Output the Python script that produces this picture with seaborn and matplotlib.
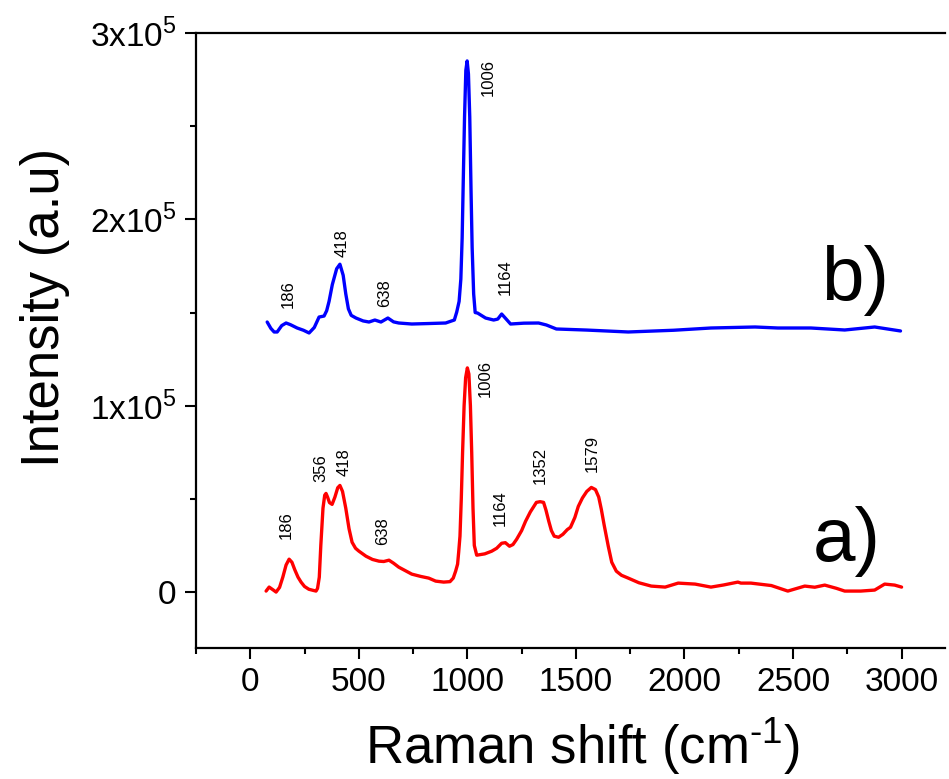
import matplotlib
matplotlib.use("Agg")
import matplotlib.pyplot as plt
from matplotlib.ticker import MultipleLocator, FixedLocator
import seaborn as sns
import pandas as pd

# Spectrum a) (red)
shift_a = [73, 87, 105, 119, 135, 150, 165, 179, 192, 205, 220, 234, 250, 270, 290, 303, 310,
           318, 325, 335, 343, 349, 356, 365, 377, 390, 403, 413, 425, 440, 455, 469, 485,
           500, 533, 563, 593, 615, 639, 660, 684, 714, 744, 785, 822, 854, 891, 920, 935,
           946, 955, 960, 966, 972, 978, 985, 992, 1000, 1007, 1014, 1020, 1026, 1032, 1043,
           1080, 1112, 1135, 1158, 1175, 1194, 1210, 1227, 1250, 1268, 1290, 1318, 1335,
           1351, 1362, 1375, 1387, 1400, 1420, 1440, 1460, 1475, 1495, 1511, 1530, 1550,
           1571, 1590, 1605, 1617, 1630, 1649, 1665, 1686, 1710, 1741, 1790, 1847, 1911,
           1971, 2049, 2122, 2180, 2246, 2260, 2306, 2400, 2476, 2554, 2600, 2646, 2700,
           2738, 2812, 2876, 2922, 2968, 3000]
int_a = [535, 2674, 1200, 0, 2500, 8000, 14500, 17650, 16000, 12000, 8000, 5350, 3000, 1500,
         900, 535, 2000, 8000, 25000, 45000, 52000, 52940, 51000, 48000, 47060, 51000, 56000,
         57220, 54000, 45000, 34000, 26740, 23500, 22000, 19250, 17500, 16580, 16400, 17110,
         15500, 13370, 11500, 9630, 8400, 7490, 5880, 5350, 5600, 7500, 11230, 15000, 21390,
         30000, 50000, 75000, 100000, 115000, 120300, 117000, 100000, 75000, 45000, 25000,
         19790, 20500, 21930, 23500, 26200, 26500, 24600, 25500, 28340, 33000, 37970, 43000,
         48130, 48500, 48130, 44000, 38000, 33000, 30000, 29410, 31000, 33500, 34760, 40000,
         45990, 50500, 54000, 56150, 55000, 51000, 44390, 36000, 24600, 16000, 11230, 9000,
         7490, 5000, 3210, 2670, 4810, 4280, 2670, 3800, 5350, 4810, 4810, 3500, 535, 3210,
         2600, 3740, 2000, 535, 535, 1070, 4280, 3740, 2670]

# Spectrum b) (blue)
shift_b = [78, 95, 110, 124, 145, 165, 185, 216, 245, 271, 295, 317, 340, 352, 363, 378,
           398, 413, 428, 440, 452, 465, 487, 520, 547, 574, 602, 634, 660, 684, 744, 820,
           900, 940, 951, 962, 970, 976, 981, 987, 993, 999, 1005, 1011, 1017, 1022, 1029,
           1036, 1047, 1084, 1121, 1140, 1158, 1175, 1199, 1260, 1328, 1364, 1410, 1550,
           1741, 1950, 2122, 2325, 2430, 2582, 2738, 2876, 2995]
int_b = [144920, 141500, 139570, 139570, 143000, 144390, 143500, 141710, 140500, 139040,
         142000, 147590, 148130, 151000, 156000, 165000, 173500, 175940, 170000, 160000,
         152000, 148500, 147060, 145500, 144920, 145990, 144920, 147060, 145000, 144390,
         143850, 144100, 144390, 146000, 150270, 156000, 168000, 190000, 220000, 255000,
         280000, 285030, 278000, 255000, 215000, 185000, 160000, 150000, 149730, 147060,
         145990, 146500, 149200, 147000, 143850, 144300, 144390, 143320, 141180, 140600,
         139570, 140500, 141710, 142250, 141710, 141710, 140640, 142250, 140110]

# Peak labels: text, x, y (bottom of the rotated label)
peaks_a = ["186", "356", "418", "638", "1006", "1164", "1352", "1579"]
peaks_a_x = [165, 326, 432, 611, 1084, 1153, 1337, 1576]
peaks_a_y = [28340, 58820, 62030, 25130, 104810, 35290, 57750, 64170]
peaks_b = ["186", "418", "638", "1006", "1164"]
peaks_b_x = [175, 423, 620, 1098, 1176]
peaks_b_y = [152410, 179680, 152940, 266310, 159360]

y_ticks = [0, 100000, 200000, 300000]
y_tick_labels = ["0", r"1x10$^{\mathregular{5}}$", r"2x10$^{\mathregular{5}}$", r"3x10$^{\mathregular{5}}$"]

sns.set_theme(style="ticks", rc={"text.color": "black", "axes.labelcolor": "black",
                                 "xtick.color": "black", "ytick.color": "black",
                                 "axes.edgecolor": "black"})
plt.rcParams["font.family"] = ["Liberation Sans", "DejaVu Sans"]
plt.rcParams["mathtext.fontset"] = "custom"
plt.rcParams["mathtext.rm"] = "Liberation Sans"

fig = plt.figure(figsize=(9.49, 7.79), dpi=100)
ax = fig.add_axes([0.2065, 0.1682, 0.7893, 0.7894])

df_a = pd.DataFrame({"shift": shift_a, "intensity": int_a})
df_b = pd.DataFrame({"shift": shift_b, "intensity": int_b})
sns.lineplot(data=df_a, x="shift", y="intensity", color="#ff0000", lw=2.4, ax=ax,
             sort=False, estimator=None)
sns.lineplot(data=df_b, x="shift", y="intensity", color="#0000ff", lw=2.4, ax=ax,
             sort=False, estimator=None)

for txt, x, y in zip(peaks_a, peaks_a_x, peaks_a_y):
    ax.text(x, y, txt, rotation=90, ha="center", va="bottom", fontsize=12)
for txt, x, y in zip(peaks_b, peaks_b_x, peaks_b_y):
    ax.text(x, y, txt, rotation=90, ha="center", va="bottom", fontsize=12)

ax.text(2591, 16580, "a)", fontsize=55, ha="left", va="baseline")
ax.text(2630, 156680, "b)", fontsize=55, ha="left", va="baseline")

ax.set_xlim(-250, 3200)
ax.set_ylim(-30000, 300000)
ax.xaxis.set_major_locator(MultipleLocator(500))
ax.xaxis.set_minor_locator(MultipleLocator(250))
ax.yaxis.set_major_locator(FixedLocator(y_ticks))
ax.yaxis.set_minor_locator(MultipleLocator(50000))
ax.set_yticklabels(y_tick_labels)

for side in ["left", "bottom", "top"]:
    ax.spines[side].set_linewidth(1.6)
ax.spines["right"].set_visible(False)

ax.tick_params(axis="both", which="major", direction="out", length=8, width=1.5,
               labelsize=24, pad=6)
ax.tick_params(axis="both", which="minor", direction="out", length=4.5, width=1.5)

ax.set_xlabel(r"Raman shift (cm$^{\text{-1}}$)", fontsize=38)
ax.set_ylabel("Intensity (a.u)", fontsize=38)
ax.xaxis.set_label_coords(0.516, -0.11)
ax.yaxis.set_label_coords(-0.168, 0.553)

fig.savefig("out.png", dpi=100)
